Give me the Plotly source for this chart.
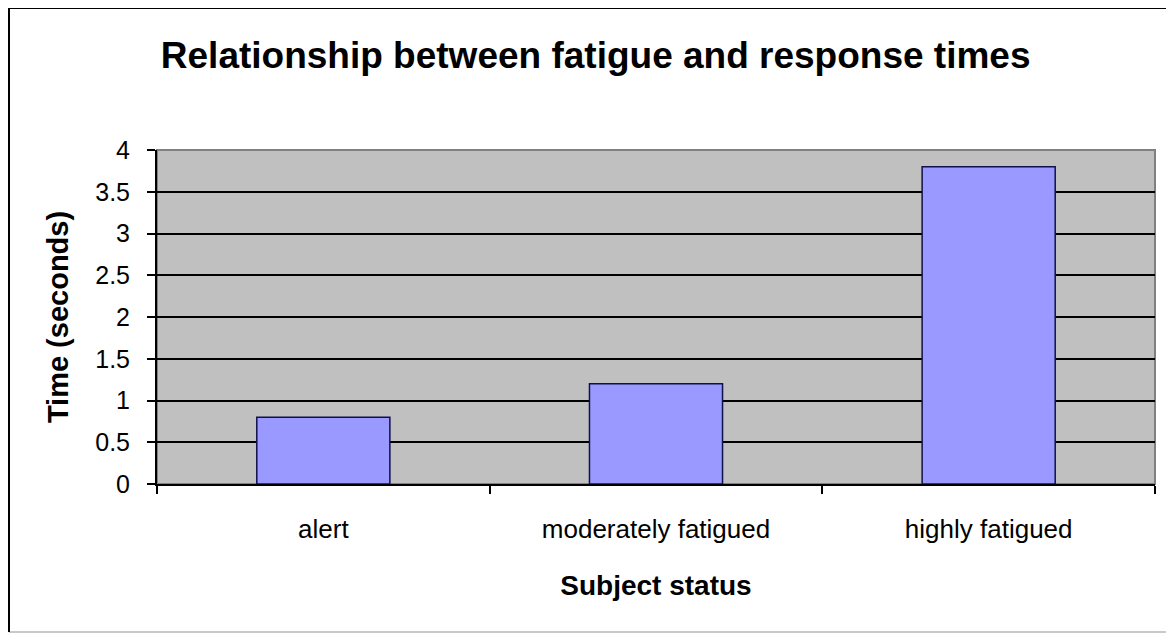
import plotly.graph_objects as go

# chart data
categories = ["alert", "moderately fatigued", "highly fatigued"]
response_times = [0.8, 1.2, 3.8]
y_ticks = [0, 0.5, 1, 1.5, 2, 2.5, 3, 3.5, 4]

FONT = "Liberation Sans, Arial, sans-serif"

bar_trace = go.Bar(
    x=categories,
    y=response_times,
    width=0.4,
    marker=dict(color="#9999FF", line=dict(color="#10104a", width=1.5)),
    hoverinfo="x+y",
)

# the page body adds an 8px margin, so the figure is a bit smaller than the window
layout = go.Layout(
    width=1166,
    height=625,
    margin=dict(l=149, r=19, t=142, b=149),
    paper_bgcolor="white",
    plot_bgcolor="#C0C0C0",
    showlegend=False,
    title=dict(
        text="<b>Relationship between fatigue and response times</b>",
        font=dict(family=FONT, size=37, color="black"),
        x=0.504, xanchor="center",
        y=0.925, yanchor="middle",
    ),
    xaxis=dict(
        showgrid=False,
        zeroline=False,
        showline=True, linecolor="black", linewidth=2,
        ticks="outside", tickson="boundaries", ticklen=8, tickcolor="black", tickwidth=2,
        tickfont=dict(family=FONT, size=26, color="black"),
        ticklabelstandoff=21,
        title=dict(text="<b>Subject status</b>", font=dict(family=FONT, size=28, color="black"), standoff=32),
    ),
    yaxis=dict(
        range=[0, 4],
        tickvals=y_ticks,
        ticktext=[f"{v:g}" for v in y_ticks],
        showgrid=True, gridcolor="black", gridwidth=2,
        zeroline=False,
        showline=True, linecolor="black", linewidth=2,
        ticks="outside", ticklen=8, tickcolor="black", tickwidth=2,
        tickfont=dict(family=FONT, size=25, color="black"),
        ticklabelstandoff=12,
        title=dict(text="<b>Time (seconds)</b>", font=dict(family=FONT, size=29, color="black"), standoff=18),
    ),
    shapes=[
        # grey frame on top/right of the plot area
        dict(type="rect", xref="paper", yref="paper", x0=0, x1=1, y0=0, y1=1,
             line=dict(color="#808080", width=2), layer="below"),
        # outer chart border: dark on top/left, light on right/bottom
        dict(type="line", xref="paper", yref="paper", x0=-0.1483, x1=1.018, y0=-0.443, y1=-0.443,
             line=dict(color="#c8c8c8", width=2), layer="above"),
        dict(type="line", xref="paper", yref="paper", x0=1.018, x1=1.018, y0=-0.443, y1=1.425,
             line=dict(color="#c8c8c8", width=2), layer="above"),
        dict(type="line", xref="paper", yref="paper", x0=-0.1483, x1=1.018, y0=1.425, y1=1.425,
             line=dict(color="black", width=2), layer="above"),
        dict(type="line", xref="paper", yref="paper", x0=-0.1483, x1=-0.1483, y0=-0.443, y1=1.425,
             line=dict(color="black", width=2), layer="above"),
    ],
)

fig = go.Figure(data=[bar_trace], layout=layout)
fig.write_html("out.html")
